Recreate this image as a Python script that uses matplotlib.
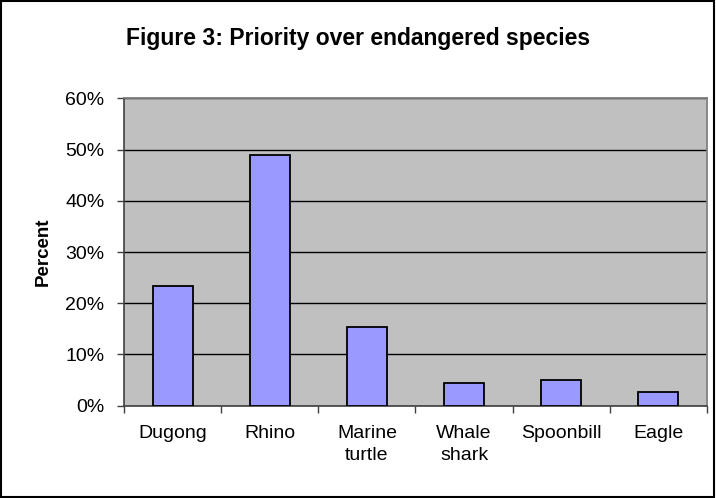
import matplotlib
matplotlib.use("Agg")
import matplotlib.pyplot as plt
from matplotlib.patches import Rectangle
from matplotlib.ticker import FixedLocator, NullFormatter

plt.rcParams['font.family'] = ['Liberation Sans', 'DejaVu Sans']

species = ["Dugong", "Rhino", "Marine\nturtle", "Whale\nshark", "Spoonbill", "Eagle"]
percent = [23.4, 49.0, 15.3, 4.4, 5.0, 2.7]
y_ticks = [0, 10, 20, 30, 40, 50, 60]
y_tick_labels = ["0%", "10%", "20%", "30%", "40%", "50%", "60%"]

fig = plt.figure(figsize=(7.16, 4.98), dpi=100)
ax = fig.add_axes([0.1732, 0.1853, 0.8142, 0.6173])

ax.set_facecolor("#C0C0C0")
x = list(range(len(species)))
ax.bar(x, percent, width=0.41, color="#9999FF", edgecolor="black", linewidth=1.3, zorder=3)

ax.set_xlim(-0.5, len(species) - 0.5)
ax.set_ylim(0, 60)
ax.set_yticks(y_ticks)
ax.set_yticklabels(y_tick_labels, fontsize=14)
ax.yaxis.grid(True, color="black", linewidth=1.0, zorder=1)
ax.set_axisbelow(True)

# category labels centred under bars, tick marks between categories
ax.set_xticks(x)
ax.set_xticklabels(species, fontsize=14, va="top", linespacing=1.4)
ax.tick_params(axis="x", which="major", length=0, pad=14)
ax.xaxis.set_minor_locator(FixedLocator([i - 0.5 for i in range(len(species) + 1)]))
ax.xaxis.set_minor_formatter(NullFormatter())
ax.tick_params(axis="x", which="minor", length=5, width=1, color="#404040", direction="out")
ax.tick_params(axis="y", length=5, width=1, color="#404040", direction="out", pad=9)

for side in ("top", "right"):
    ax.spines[side].set_color("#808080")
    ax.spines[side].set_linewidth(1.3)
for side in ("left", "bottom"):
    ax.spines[side].set_color("#404040")
    ax.spines[side].set_linewidth(1.2)

ax.set_ylabel("Percent", fontsize=13.5, fontweight="bold", va="center")
ax.yaxis.set_label_coords(43 / 716, 0.5 * (0.1853 + 0.8026), transform=fig.transFigure)

fig.text(0.5, 1 - 38 / 498, "Figure 3: Priority over endangered species",
         ha="center", va="center", fontsize=16.5, fontweight="bold")

# chart-area frame
fig.patches.append(Rectangle((0.002, 0.003), 0.995, 0.994, transform=fig.transFigure,
                             fill=False, edgecolor="black", linewidth=1.5))

fig.savefig("out.png", dpi=100, facecolor="white")
